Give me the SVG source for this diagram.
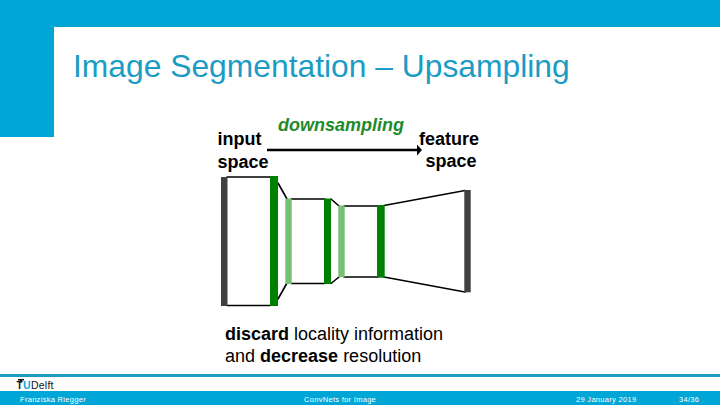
<svg xmlns="http://www.w3.org/2000/svg" width="720" height="405" viewBox="0 0 720 405">
<style>
.l{stroke:#000;stroke-width:1.6;fill:none}
.d{fill:#404040}
.g{fill:#008000}
.p{fill:#75c075}
.b{font-family:"Liberation Sans",Arial,sans-serif;font-size:18px;font-weight:bold;fill:#000;text-anchor:middle}
.t{font-family:"Liberation Sans",Arial,sans-serif;font-size:18px;fill:#000}
.f{font-family:"Liberation Sans",Arial,sans-serif;font-size:7.500px;fill:#fff;letter-spacing:.3px}
</style>
<rect width="720" height="405" fill="#fff"/>
<g id="header">
<rect width="720" height="27" fill="#00a6d6"/>
<rect y="27" width="54" height="110" fill="#00a6d6"/>
<text x="73" y="77" font-family="'Liberation Sans',Arial,sans-serif" font-size="31.800px" fill="#1a9cc4">Image Segmentation – Upsampling</text>
</g>
<g id="labels">
<text class="b" x="239.500" y="145">input</text>
<text class="b" x="243" y="168">space</text>
<text x="341" y="131" text-anchor="middle" font-family="'Liberation Sans',Arial,sans-serif" font-size="18px" font-weight="bold" font-style="italic" fill="#1f8a2a">downsampling</text>
<text class="b" x="449" y="145">feature</text>
<text class="b" x="451" y="167">space</text>
</g>
<g id="connectors">
<path class="l" d="M227 177H270M227 305.500H270M278 183L287 199M278 299L287 283M291 199H325M291 283.500H325M331 199L339 206M331 283.500L339 277M344 206H378M344 277H378M384 205.500L465 190.500M384 277L465 292" stroke-linecap="round"/>
<path d="M267 150H417" stroke="#000" stroke-width="2.400" fill="none"/>
<path d="M417 144.500L422 150L417 155.500Z" fill="#000"/>
</g>
<g id="layer-input"><rect class="d" x="221" y="177" width="6.500" height="129"/></g>
<g id="layer-green-1"><rect class="g" x="270" y="176" width="8" height="130"/></g>
<g id="layer-light-1"><rect class="p" x="285.300" y="198.500" width="6.400" height="85.500"/></g>
<g id="layer-green-2"><rect class="g" x="324" y="198.500" width="7" height="85.500"/></g>
<g id="layer-light-2"><rect class="p" x="338.300" y="205.500" width="6.400" height="71.500"/></g>
<g id="layer-green-3"><rect class="g" x="377" y="205" width="7.700" height="72.700"/></g>
<g id="layer-output"><rect class="d" x="464.300" y="190" width="6.400" height="102.300"/></g>
<g id="caption">
<text class="t" x="225" y="340"><tspan font-weight="bold">discard</tspan> locality information</text>
<text class="t" x="225" y="362">and <tspan font-weight="bold">decrease</tspan> resolution</text>
</g>
<g id="footer">
<rect y="374" width="720" height="3" fill="#1f9cc2"/>
<rect y="391" width="720" height="14" fill="#00a6d6"/>
<text x="16.500" y="389" font-family="'Liberation Sans',Arial,sans-serif" font-size="10px" font-weight="bold" fill="#111" letter-spacing=".6">T<tspan fill="#00a6d6">U</tspan><tspan font-weight="normal" font-size="10.500px" letter-spacing=".2">Delft</tspan></text>
<path d="M18 379h6v1.500h-2v2h-2v-2h-2z" fill="#111"/>
<text class="f" x="20" y="402">Franziska Riegger</text>
<text class="f" x="304" y="402">ConvNets for Image</text>
<text class="f" x="576" y="402">29 January 2019</text>
<text class="f" x="679" y="402">34/36</text>
</g>
</svg>
